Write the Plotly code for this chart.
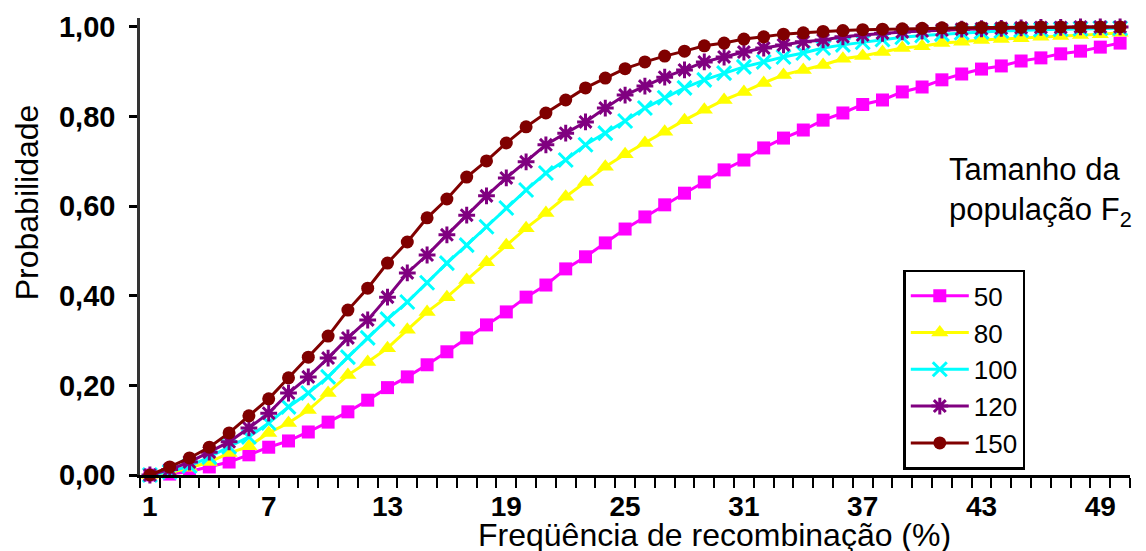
import plotly.graph_objects as go

freq = list(range(1, 51))
x_tick_vals = [1, 7, 13, 19, 25, 31, 37, 43, 49]
y_tick_vals = [0, 0.2, 0.4, 0.6, 0.8, 1.0]

pop_50 = [0, 0.002, 0.008, 0.018, 0.029, 0.045, 0.062, 0.076, 0.096, 0.118,
          0.141, 0.167, 0.195, 0.219, 0.246, 0.275, 0.306, 0.335, 0.364, 0.397,
          0.424, 0.460, 0.487, 0.518, 0.549, 0.576, 0.603, 0.629, 0.654, 0.681,
          0.703, 0.730, 0.752, 0.770, 0.792, 0.808, 0.827, 0.837, 0.855, 0.866,
          0.882, 0.895, 0.906, 0.913, 0.924, 0.931, 0.940, 0.946, 0.955, 0.964]
pop_80 = [0, 0.005, 0.016, 0.029, 0.049, 0.064, 0.094, 0.116, 0.145, 0.183,
          0.223, 0.252, 0.283, 0.324, 0.364, 0.397, 0.435, 0.475, 0.513, 0.551,
          0.585, 0.621, 0.654, 0.688, 0.716, 0.741, 0.766, 0.792, 0.815, 0.837,
          0.855, 0.875, 0.893, 0.904, 0.915, 0.929, 0.935, 0.944, 0.953, 0.957,
          0.964, 0.967, 0.971, 0.973, 0.975, 0.978, 0.980, 0.982, 0.984, 0.987]
pop_100 = [0, 0.007, 0.020, 0.040, 0.063, 0.085, 0.116, 0.152, 0.183, 0.219,
           0.263, 0.306, 0.348, 0.386, 0.429, 0.473, 0.513, 0.554, 0.596, 0.636,
           0.674, 0.703, 0.737, 0.763, 0.790, 0.819, 0.842, 0.864, 0.882, 0.897,
           0.911, 0.922, 0.933, 0.942, 0.953, 0.960, 0.966, 0.972, 0.977, 0.981,
           0.984, 0.987, 0.989, 0.991, 0.993, 0.994, 0.995, 0.996, 0.997, 0.997]
pop_120 = [0, 0.012, 0.029, 0.051, 0.074, 0.105, 0.138, 0.183, 0.219, 0.261,
           0.306, 0.346, 0.397, 0.451, 0.491, 0.536, 0.580, 0.623, 0.663, 0.699,
           0.737, 0.763, 0.788, 0.819, 0.848, 0.868, 0.888, 0.904, 0.922, 0.933,
           0.944, 0.953, 0.960, 0.967, 0.971, 0.978, 0.982, 0.986, 0.989, 0.991,
           0.993, 0.995, 0.996, 0.997, 0.998, 0.999, 0.999, 1.0, 1.0, 1.0]
pop_150 = [0, 0.018, 0.038, 0.062, 0.094, 0.132, 0.170, 0.217, 0.263, 0.310,
           0.368, 0.417, 0.473, 0.520, 0.574, 0.616, 0.665, 0.701, 0.741, 0.777,
           0.808, 0.837, 0.864, 0.886, 0.907, 0.922, 0.935, 0.946, 0.958, 0.964,
           0.973, 0.978, 0.984, 0.987, 0.990, 0.992, 0.994, 0.995, 0.996, 0.997,
           0.998, 0.998, 0.999, 0.999, 0.999, 1.0, 1.0, 1.0, 1.0, 1.0]

series = [
    ("50", pop_50, "#FF00FF", "square", 13, 0),
    ("80", pop_80, "#FFFF00", "triangle-up", 15, 0),
    ("100", pop_100, "#00FFFF", "x-thin-open", 14, 3),
    ("120", pop_120, "#800080", "asterisk-open", 14, 3),
    ("150", pop_150, "#800000", "circle", 13, 0),
]

fig = go.Figure()
for name, vals, color, sym, size, lw in series:
    fig.add_trace(go.Scatter(
        x=freq, y=vals, name=name, mode="lines+markers",
        line=dict(color=color, width=3),
        marker=dict(symbol=sym, size=size, color=color,
                    line=dict(color=color, width=lw)),
        cliponaxis=False,
    ))

ytick_font = dict(family="Liberation Sans, Arial, sans-serif", size=29, color="black", weight="bold")
xtick_font = dict(family="Liberation Sans, Arial, sans-serif", size=28, color="black", weight="bold")
text_font = dict(family="Liberation Sans, Arial, sans-serif", size=32, color="black")

fig.update_layout(
    width=1146, height=551,
    margin=dict(l=132, r=24, t=10, b=84, autoexpand=False),
    paper_bgcolor="white", plot_bgcolor="white",
    separators=",.",
    showlegend=True,
    legend=dict(
        x=0.771, y=0.449, xanchor="left", yanchor="top",
        bgcolor="white", bordercolor="black", borderwidth=2.5,
        font=dict(family="Liberation Sans, Arial, sans-serif", size=26, color="black"),
        itemwidth=58, tracegroupgap=0,
    ),
    xaxis=dict(
        range=[0.5, 50.5], tickmode="array", tickvals=x_tick_vals,
        ticktext=[str(v) for v in x_tick_vals],
        ticks="", showline=True, linecolor="black", linewidth=2.5,
        showgrid=False, zeroline=False, tickfont=xtick_font,
        ticklabelstandoff=5, automargin=False,
        minor=dict(tick0=0.5, dtick=1, ticks="outside", ticklen=10,
                   tickwidth=2, tickcolor="black", showgrid=False),
    ),
    yaxis=dict(
        range=[0, 1.02], tickmode="array", tickvals=y_tick_vals,
        tickformat=".2f", ticks="outside", ticklen=8, tickwidth=2.5,
        tickcolor="black", showline=True, linecolor="#333333", linewidth=2.5,
        showgrid=False, zeroline=False, tickfont=ytick_font,
        ticklabelstandoff=8, automargin=False,
    ),
    annotations=[
        dict(text="Freqüência de recombinação (%)", xref="paper", yref="paper",
             x=0.58, y=-0.131, xanchor="center", yanchor="middle",
             showarrow=False, font=text_font),
        dict(text="Probabilidade", xref="paper", yref="paper",
             x=-0.114, y=0.597, xanchor="center", yanchor="middle",
             textangle=-90, showarrow=False, font=text_font),
        dict(text="Tamanho da<br>população F<sub>2</sub>", xref="paper", yref="paper",
             x=0.815, y=0.619, xanchor="left", yanchor="middle", align="left",
             showarrow=False, font=dict(family="Liberation Sans, Arial, sans-serif",
                                        size=31, color="black")),
    ],
)

fig.write_html("out.html")
